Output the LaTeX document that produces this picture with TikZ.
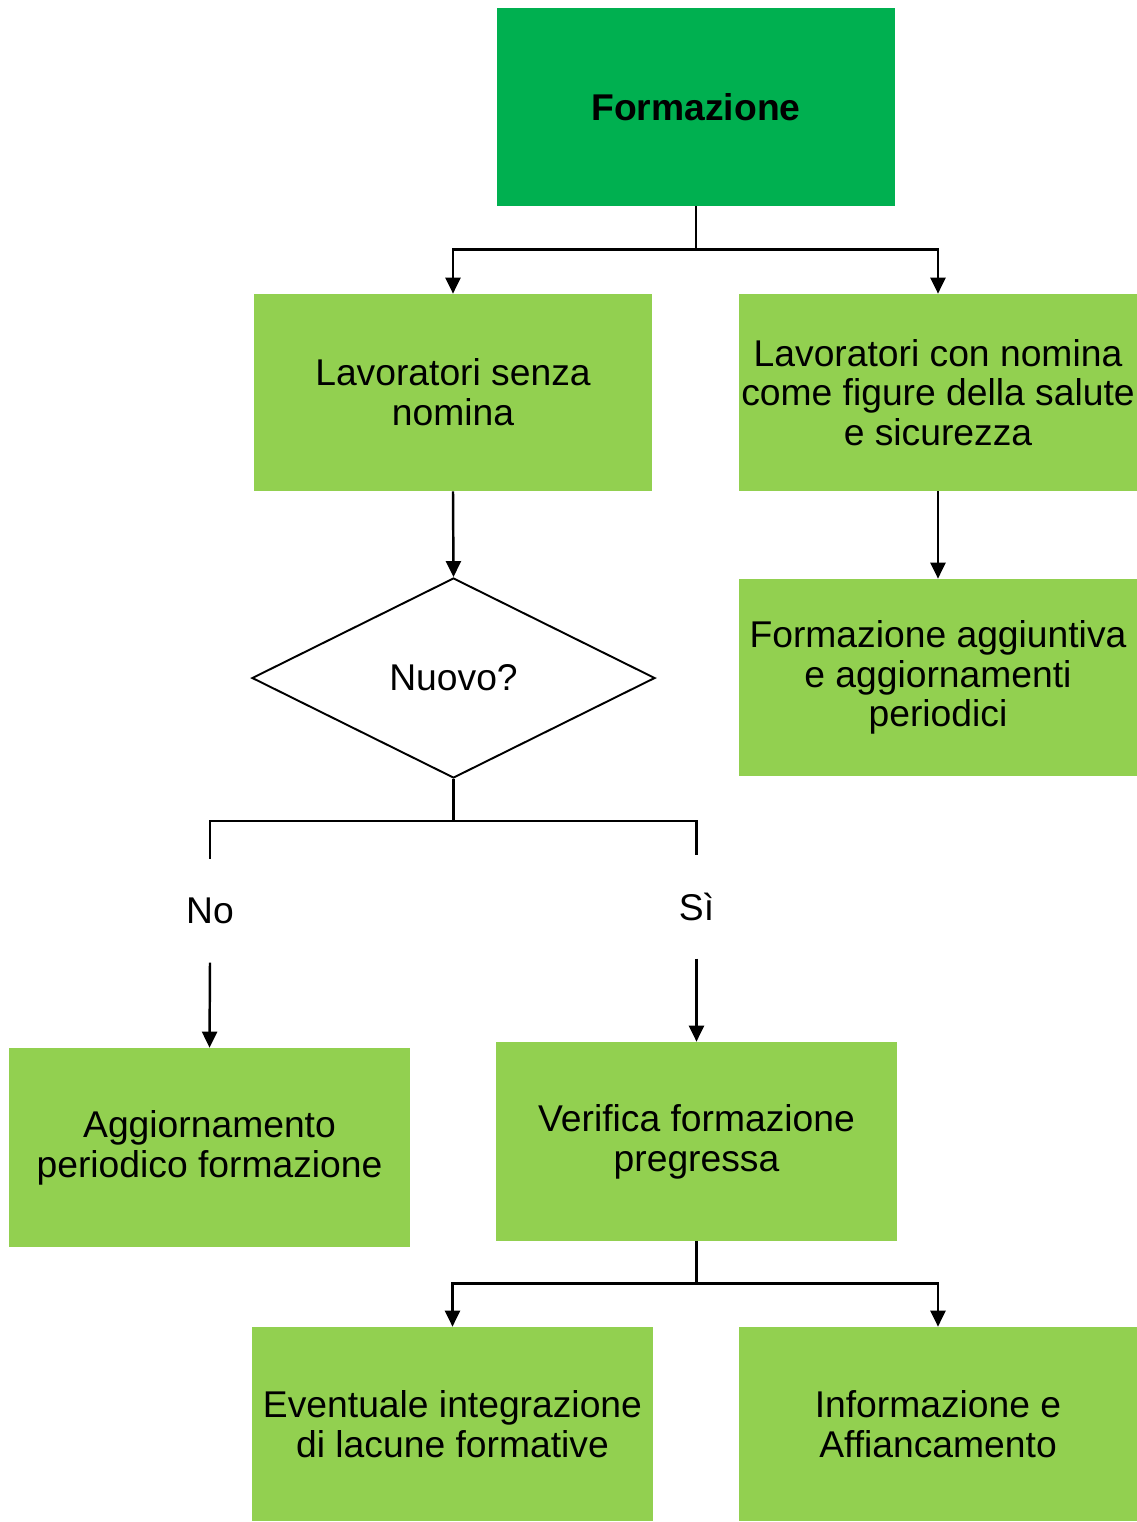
\documentclass[tikz,border=0pt]{standalone}
\usepackage{fontspec}
\setmainfont{Liberation Sans}
\usetikzlibrary{arrows.meta}
\usetikzlibrary{shapes.geometric}
\definecolor{darkgreen}{HTML}{00B050}
\definecolor{lightgreen}{HTML}{92D050}
\newcommand{\flowfont}{\fontsize{21.2}{22.6}\selectfont}
\tikzset{
    mainbox/.style={rectangle, fill=darkgreen, minimum width=7.96cm, minimum height=3.96cm, font=\flowfont\bfseries},
    greenbox/.style={rectangle, fill=lightgreen, inner xsep=0pt, minimum width=7.96cm, minimum height=3.94cm, align=center},
    choice/.style={diamond, draw=black, line width=1.1pt, aspect=2, inner sep=0pt, minimum width=8.06cm, minimum height=4cm},
    answer/.style={inner sep=0pt, minimum height=2.05cm},
    flowarrow/.style={-{Triangle[width=0.3cm, length=0.32cm]}, line width=1.4pt},
    flowline/.style={-, line width=1.4pt}
}

\begin{document}
\begin{tikzpicture}[font=\flowfont]
    \useasboundingbox (0,0) rectangle (22.74,-30.44);

    \node[mainbox] (form) at (13.92,-2.14) {Formazione};

    \node[greenbox] (senza) at (9.06,-7.85) {Lavoratori senza\\nomina};
    \node[greenbox] (con) at (18.76,-7.85) {Lavoratori con nomina\\come figure della salute\\e sicurezza};
    \node[greenbox] (aggiuntiva) at (18.76,-13.55) {Formazione aggiuntiva\\e aggiornamenti\\periodici};

    \node[choice] (nuovo) at (9.07,-13.56) {Nuovo?};
    \node[answer] (no) at (4.2,-18.22) {No};
    \node[answer] (si) at (13.93,-18.14) {Sì};

    \node[greenbox, minimum width=8.02cm, minimum height=3.98cm] (aggiorn) at (4.19,-22.95) {Aggiornamento\\periodico formazione};
    \node[greenbox, minimum width=8.02cm, minimum height=3.98cm] (verifica) at (13.93,-22.83) {Verifica formazione\\pregressa};

    \node[greenbox, minimum width=8.02cm, minimum height=3.88cm] (lacune) at (9.05,-28.48) {Eventuale integrazione\\di lacune formative};
    \node[greenbox, minimum height=3.88cm] (affianc) at (18.76,-28.48) {Informazione e\\Affiancamento};

    % rami dalla formazione
    \draw[flowarrow] (form.south) -- ++(0,-0.86) -| (senza.north);
    \draw[flowarrow] (form.south) -- ++(0,-0.86) -| (con.north);
    \draw[flowarrow] (senza.south) -- (nuovo.north);
    \draw[flowarrow] (con.south) -- (aggiuntiva.north);

    % risposta al nodo decisionale
    \draw[flowline] (nuovo.south) -- ++(0,-0.84) -| (no.north);
    \draw[flowline] (nuovo.south) -- ++(0,-0.84) -| (si.north);
    \draw[flowarrow] (no.south) -- (aggiorn.north);
    \draw[flowarrow] (si.south) -- (verifica.north);

    \draw[flowarrow] (verifica.south) -- ++(0,-0.84) -| (lacune.north);
    \draw[flowarrow] (verifica.south) -- ++(0,-0.84) -| (affianc.north);
\end{tikzpicture}
\end{document}
